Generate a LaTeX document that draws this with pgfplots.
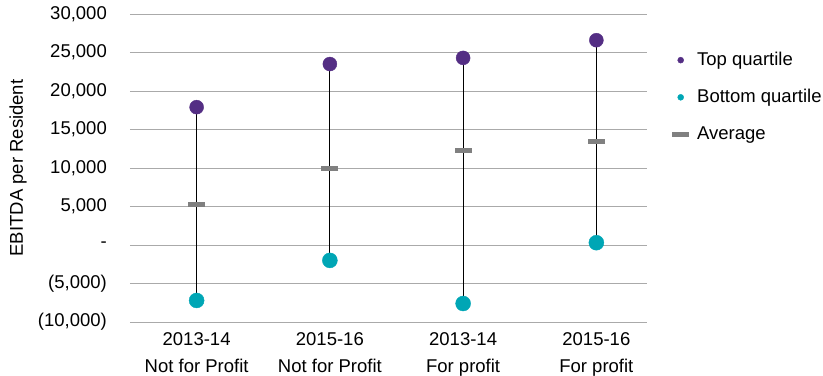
\documentclass[border=0pt]{standalone}
\usepackage{fontspec}
\setmainfont{Liberation Sans}
\usepackage{pgfplots}
\pgfplotsset{compat=1.18}
\definecolor{topq}{RGB}{84,46,132}
\definecolor{botq}{RGB}{0,166,181}
\definecolor{avgc}{RGB}{128,128,128}
\definecolor{gridc}{RGB}{170,170,170}
\begin{document}
\fontsize{18.5bp}{22bp}\selectfont
\begin{tikzpicture}
\begin{axis}[
  scale only axis,
  width=517bp, height=308bp,
  xmin=-0.5, xmax=3.38,
  ymin=-10000, ymax=30000,
  scaled y ticks=false,
  ytick={-10000,-5000,0,5000,10000,15000,20000,25000,30000},
  yticklabels={{(10,000)},{(5,000)},{-},{5,000},{10,000},{15,000},{20,000},{25,000},{30,000}},
  xtick={0,1,2,3},
  xticklabels={{2013-14\\[5bp]Not for Profit},{2015-16\\[5bp]Not for Profit},{2013-14\\[5bp]For profit},{2015-16\\[5bp]For profit}},
  xticklabel style={align=center, inner sep=0pt, yshift=-10bp},
  yticklabel style={inner sep=0pt, xshift=-23bp},
  major tick length=0pt,
  axis line style={draw=none},
  ymajorgrids,
  grid style={gridc, line width=1bp},
  ylabel={EBITDA per Resident},
  ylabel style={at={(axis description cs:0,0.5)}, anchor=south, inner sep=0pt, yshift=103bp},
  legend style={draw=none, fill=none, at={(axis description cs:1,0.89)}, anchor=north west, xshift=22bp,
     row sep=17bp, column sep=6bp, font=\fontsize{18.5bp}{22bp}\selectfont},
  legend cell align=left,
  clip=false,
]
\coordinate (O) at (rel axis cs:0,0);
% whiskers
\addplot[black, line width=1bp, forget plot] coordinates {(0,17900) (0,-7200)};
\addplot[black, line width=1bp, forget plot] coordinates {(1,23500) (1,-2000)};
\addplot[black, line width=1bp, forget plot] coordinates {(2,24300) (2,-7600)};
\addplot[black, line width=1bp, forget plot] coordinates {(3,26600) (3,300)};
% top quartile
\addplot[only marks, mark=*, mark size=7bp, color=topq, forget plot] coordinates {(0,17900) (1,23500) (2,24300) (3,26600)};
% bottom quartile
\addplot[only marks, mark=*, mark size=7.5bp, color=botq, forget plot] coordinates {(0,-7200) (1,-2000) (2,-7600) (3,300)};
% average
\addplot[only marks, mark=-, mark size=8.5bp, mark options={line width=5bp}, color=avgc, forget plot] coordinates {(0,5300) (1,9900) (2,12300) (3,13500)};
\addlegendimage{only marks, mark=*, mark size=3bp, color=topq}
\addlegendentry{Top quartile}
\addlegendimage{only marks, mark=*, mark size=3bp, color=botq}
\addlegendentry{Bottom quartile}
\addlegendimage{only marks, mark=-, mark size=8.5bp, mark options={line width=5bp}, color=avgc}
\addlegendentry{Average}
\end{axis}
\pgfresetboundingbox
\path[use as bounding box] (O) ++(-130bp,-54bp) rectangle ++(823bp,376bp);
\end{tikzpicture}
\end{document}
